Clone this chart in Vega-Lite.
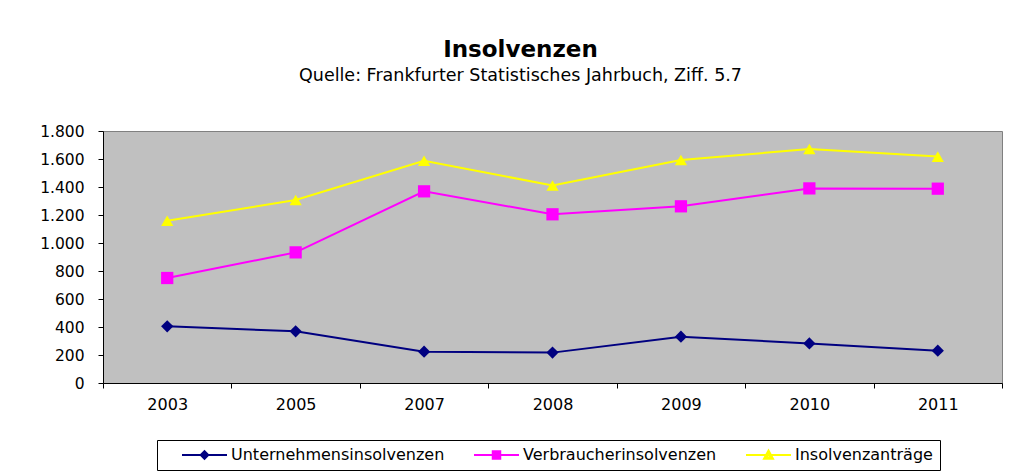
{
  "$schema": "https://vega.github.io/schema/vega-lite/v6.json",
  "autosize": "none",
  "width": 899,
  "height": 252,
  "padding": {"left": 103, "top": 131, "right": 9, "bottom": 92},
  "background": "white",
  "config": {
    "locale": {"number": {"decimal": ",", "thousands": ".", "grouping": [3], "currency": ["", " €"]}},
    "view": {"fill": "#C0C0C0", "stroke": "#808080", "strokeWidth": 1},
    "font": "DejaVu Sans",
    "legend": {
      "title": null,
      "orient": "none",
      "legendX": 54,
      "legendY": 309,
      "direction": "horizontal",
      "strokeColor": "black",
      "fillColor": "white",
      "padding": 7,
      "symbolSize": 100,
      "symbolStrokeWidth": 2,
      "symbolOpacity": 1,
      "symbolFillColor": "transparent",
      "labelOffset": 51,
      "columnPadding": 11,
      "labelFont": "DejaVu Sans",
      "labelFontSize": 16,
      "labelColor": "black",
      "labelLimit": 400
    }
  },
  "title": {
    "text": "Insolvenzen",
    "subtitle": "Quelle: Frankfurter Statistisches Jahrbuch, Ziff. 5.7",
    "font": "DejaVu Sans",
    "fontSize": 23,
    "fontWeight": "bold",
    "color": "black",
    "subtitleFont": "DejaVu Sans",
    "subtitleFontSize": 17.5,
    "subtitleColor": "black",
    "anchor": "middle",
    "frame": "group",
    "dx": -32,
    "offset": 40,
    "subtitlePadding": 5
  },
  "data": {
    "values": [
      {"Jahr": "2003", "Reihe": "Unternehmensinsolvenzen", "Wert": 405},
      {"Jahr": "2005", "Reihe": "Unternehmensinsolvenzen", "Wert": 369},
      {"Jahr": "2007", "Reihe": "Unternehmensinsolvenzen", "Wert": 224},
      {"Jahr": "2008", "Reihe": "Unternehmensinsolvenzen", "Wert": 217},
      {"Jahr": "2009", "Reihe": "Unternehmensinsolvenzen", "Wert": 331},
      {"Jahr": "2010", "Reihe": "Unternehmensinsolvenzen", "Wert": 283},
      {"Jahr": "2011", "Reihe": "Unternehmensinsolvenzen", "Wert": 231},
      {"Jahr": "2003", "Reihe": "Verbraucherinsolvenzen", "Wert": 750},
      {"Jahr": "2005", "Reihe": "Verbraucherinsolvenzen", "Wert": 933},
      {"Jahr": "2007", "Reihe": "Verbraucherinsolvenzen", "Wert": 1369},
      {"Jahr": "2008", "Reihe": "Verbraucherinsolvenzen", "Wert": 1205},
      {"Jahr": "2009", "Reihe": "Verbraucherinsolvenzen", "Wert": 1262},
      {"Jahr": "2010", "Reihe": "Verbraucherinsolvenzen", "Wert": 1390},
      {"Jahr": "2011", "Reihe": "Verbraucherinsolvenzen", "Wert": 1388},
      {"Jahr": "2003", "Reihe": "Insolvenzanträge", "Wert": 1159},
      {"Jahr": "2005", "Reihe": "Insolvenzanträge", "Wert": 1307},
      {"Jahr": "2007", "Reihe": "Insolvenzanträge", "Wert": 1588},
      {"Jahr": "2008", "Reihe": "Insolvenzanträge", "Wert": 1411},
      {"Jahr": "2009", "Reihe": "Insolvenzanträge", "Wert": 1593},
      {"Jahr": "2010", "Reihe": "Insolvenzanträge", "Wert": 1671},
      {"Jahr": "2011", "Reihe": "Insolvenzanträge", "Wert": 1617}
    ]
  },
  "encoding": {
    "x": {
      "field": "Jahr",
      "type": "ordinal",
      "scale": {"type": "band", "paddingInner": 0, "paddingOuter": 0},
      "axis": {
        "title": null,
        "labelAngle": 0,
        "labelFont": "DejaVu Sans",
        "labelFontSize": 16,
        "labelColor": "black",
        "labelPadding": 8,
        "tickBand": "extent",
        "tickColor": "black",
        "tickSize": 5,
        "domainColor": "black",
        "domainWidth": 1,
        "grid": false
      }
    },
    "y": {
      "field": "Wert",
      "type": "quantitative",
      "scale": {"domain": [0, 1800], "nice": false},
      "axis": {
        "title": null,
        "values": [0, 200, 400, 600, 800, 1000, 1200, 1400, 1600, 1800],
        "format": ",.0f",
        "labelFont": "DejaVu Sans",
        "labelFontSize": 15.5,
        "labelColor": "black",
        "labelPadding": 14,
        "tickColor": "black",
        "tickSize": 5,
        "domainColor": "black",
        "domainWidth": 1,
        "grid": false
      }
    }
  },
  "layer": [
    {
      "mark": {"type": "line", "strokeWidth": 2},
      "encoding": {
        "color": {
          "field": "Reihe",
          "type": "nominal",
          "scale": {
            "domain": ["Unternehmensinsolvenzen", "Verbraucherinsolvenzen", "Insolvenzanträge"],
            "range": ["#000080", "#FF00FF", "#FFFF00"]
          },
          "legend": null
        }
      }
    },
    {
      "mark": {"type": "point", "filled": true, "opacity": 1, "size": 150},
      "encoding": {
        "color": {
          "field": "Reihe",
          "type": "nominal",
          "scale": {
            "domain": ["Unternehmensinsolvenzen", "Verbraucherinsolvenzen", "Insolvenzanträge"],
            "range": ["#000080", "#FF00FF", "#FFFF00"]
          },
          "legend": null
        },
        "shape": {
          "field": "Reihe",
          "type": "nominal",
          "scale": {
            "domain": ["Unternehmensinsolvenzen", "Verbraucherinsolvenzen", "Insolvenzanträge"],
            "range": ["diamond", "square", "triangle-up"]
          },
          "legend": null
        }
      }
    },
    {
      "mark": {"type": "point", "filled": false, "opacity": 0, "strokeWidth": 2, "size": 100},
      "encoding": {
        "color": {
          "field": "Reihe",
          "type": "nominal",
          "scale": {
            "domain": ["Unternehmensinsolvenzen", "Verbraucherinsolvenzen", "Insolvenzanträge"],
            "range": ["#000080", "#FF00FF", "#FFFF00"]
          },
          "legend": {}
        },
        "shape": {
          "field": "Reihe",
          "type": "nominal",
          "scale": {
            "domain": ["Unternehmensinsolvenzen", "Verbraucherinsolvenzen", "Insolvenzanträge"],
            "range": [
              "M2,0H11M5.75,0L6.5,-0.75L7.25,0L6.5,0.75ZM6.1,0L6.5,-0.4L6.9,0L6.5,0.4Z",
              "M2,0H11M5.75,-0.75H7.25V0.75H5.75ZM6.1,-0.4H6.9V0.4H6.1Z",
              "M2,0H11M6.5,-0.9L7.4,0.75H5.6ZM6.5,-0.35L6.95,0.45H6.05Z"
            ]
          },
          "legend": {}
        }
      }
    }
  ],
  "resolve": {
    "scale": {"color": "independent", "shape": "independent"},
    "legend": {"color": "independent", "shape": "independent"}
  }
}
